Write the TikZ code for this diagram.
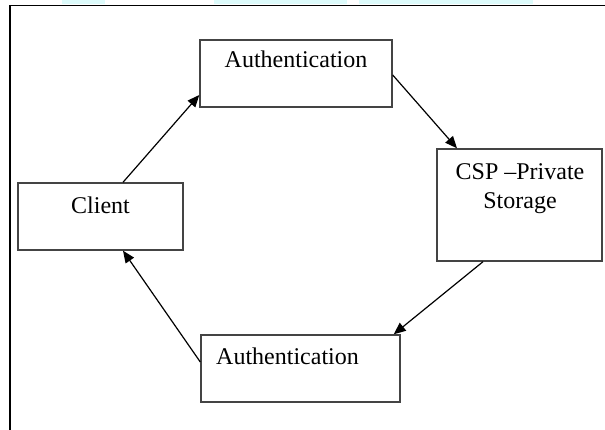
\documentclass[tikz,border=0pt]{standalone}
\usepackage{fontspec}
\setmainfont{Liberation Serif}
\usetikzlibrary{arrows.meta}
\definecolor{boxgray}{HTML}{444444}
\definecolor{hilite}{HTML}{DDFBFB}
\begin{document}
\begin{tikzpicture}[x=1pt,y=-1pt,
  box/.style={draw=boxgray, line width=1.4pt, rectangle, inner sep=0pt},
  txt/.style={font=\fontsize{24}{28}\selectfont, inner sep=0pt, anchor=base},
  arr/.style={draw=black, line width=1.2pt, -{Triangle[length=12pt,width=10pt]}},
  frame/.style={draw=black, line width=1.8pt}]
\useasboundingbox (0,0) rectangle (605,430);
% highlight strips at the top
\fill[hilite] (62,0) rectangle (105,4);
\fill[hilite] (214,0) rectangle (347,4);
\fill[hilite] (359,0) rectangle (533,4);
% outer frame
\coordinate (ftop) at (605,5.5);
\coordinate (fcorner) at (10,5.5);
\coordinate (fbottom) at (10,430);
\draw[frame] (ftop) -- (fcorner) -- (fbottom);
% boxes
\node[box, minimum width=192pt, minimum height=67pt] (a1) at (296,73.5) {};
\node[box, minimum width=165pt, minimum height=67pt] (client) at (100.5,216.5) {};
\node[box, minimum width=165pt, minimum height=112pt] (csp) at (519.5,205) {};
\node[box, minimum width=199pt, minimum height=67pt] (a2) at (300.5,368.5) {};
% texts
\node[txt] (t1) at (296,68) {Authentication};
\node[txt] (t2) at (100.5,214) {Client};
\node[txt] (t3) at (520,180) {CSP –Private};
\node[txt] (t4) at (520,209) {Storage};
\node[txt, anchor=base west] (t5) at (216,364) {Authentication};
% connectors
\draw[arr] ([xshift=22.5pt]client.north) -- ([yshift=-21.5pt]a1.west);
\draw[arr] ([yshift=-1.5pt]a1.east) -- ([xshift=-62.5pt]csp.north);
\draw[arr] ([xshift=-36.5pt]csp.south) -- ([xshift=-7pt]a2.north east);
\draw[arr] ([yshift=6.5pt]a2.west) -- ([xshift=22.5pt]client.south);
\end{tikzpicture}
\end{document}
